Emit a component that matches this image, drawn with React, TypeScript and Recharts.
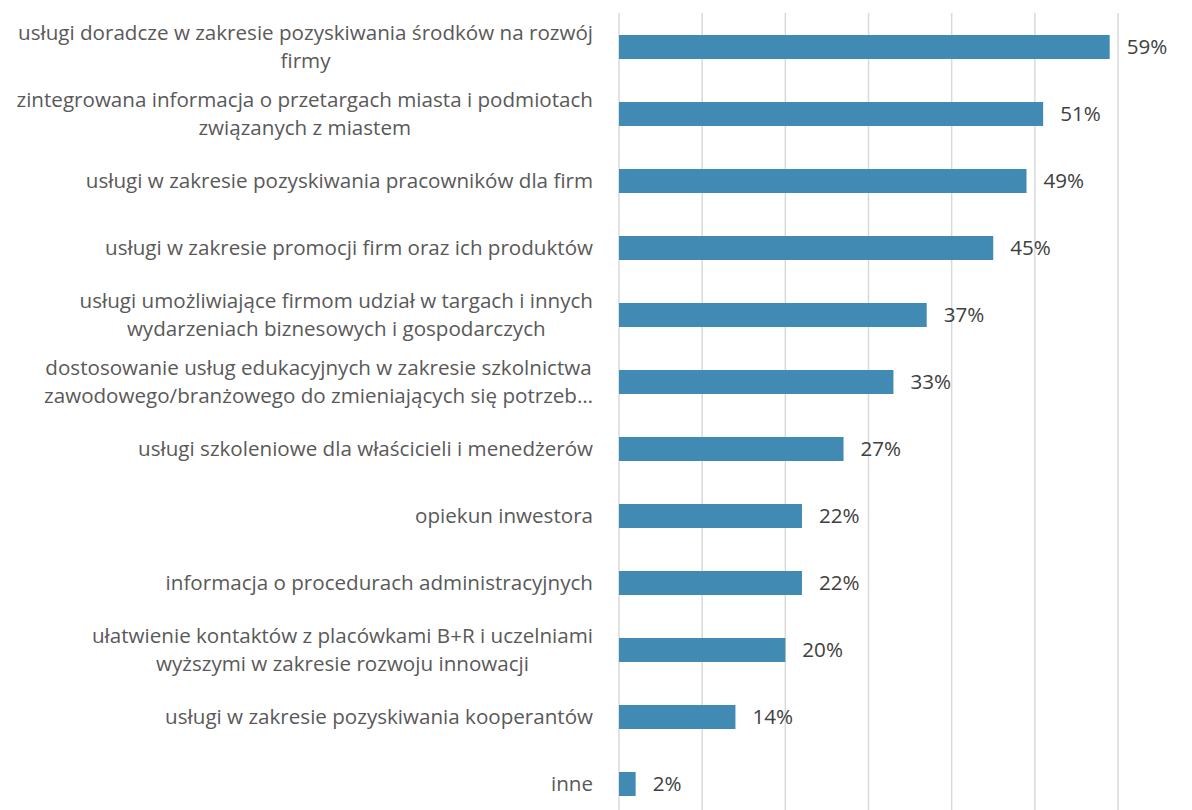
import React from "react";
import { BarChart, Bar, XAxis, YAxis, CartesianGrid, LabelList } from "recharts";

// category labels (\n = line break as in the original)
const categories = [
  "usługi doradcze w zakresie pozyskiwania środków na rozwój\nfirmy",
  "zintegrowana informacja o przetargach miasta i podmiotach\nzwiązanych z miastem",
  "usługi w zakresie pozyskiwania pracowników dla firm",
  "usługi w zakresie promocji firm oraz ich produktów",
  "usługi umożliwiające firmom udział w targach i innych\nwydarzeniach biznesowych i gospodarczych",
  "dostosowanie usług edukacyjnych w zakresie szkolnictwa\nzawodowego/branżowego do zmieniających się potrzeb…",
  "usługi szkoleniowe dla właścicieli i menedżerów",
  "opiekun inwestora",
  "informacja o procedurach administracyjnych",
  "ułatwienie kontaktów z placówkami B+R i uczelniami\nwyższymi w zakresie rozwoju innowacji",
  "usługi w zakresie pozyskiwania kooperantów",
  "inne",
];

const values = [59, 51, 49, 45, 37, 33, 27, 22, 22, 20, 14, 2];

const xTicks = [0, 10, 20, 30, 40, 50, 60];

const data = categories.map((name, i) => ({ name, value: values[i] }));

const FONT_SIZE = 20.6;
const FONT = `${FONT_SIZE}px 'Open Sans'`;

let ctx: CanvasRenderingContext2D | null = null;
function measure(text: string) {
  if (!ctx) ctx = document.createElement("canvas").getContext("2d");
  if (!ctx) return text.length * 10;
  ctx.font = FONT;
  return ctx.measureText(text).width;
}

function CategoryTick(props: any) {
  const { x, y, payload } = props;
  const lines: string[] = String(payload.value).split("\n");
  const right = x - 18;
  const blockW = Math.max(...lines.map(measure));
  const cx = right - blockW / 2;
  const lh = 28;
  const startY = y - ((lines.length - 1) * lh) / 2;
  return (
    <g>
      {lines.map((l, i) => (
        <text
          key={i}
          x={cx}
          y={startY + i * lh}
          dy="0.35em"
          textAnchor="middle"
          fill="#595959"
          fontSize={FONT_SIZE}
          fontFamily="'Open Sans'"
        >
          {l}
        </text>
      ))}
    </g>
  );
}

export default function App() {
  return (
    <div
      style={{
        position: "fixed",
        left: 0,
        top: 0,
        width: 1192,
        height: 810,
        overflow: "hidden",
        background: "#fff",
      }}
    >
      <BarChart
        width={1192}
        height={820}
        data={data}
        layout="vertical"
        margin={{ top: 13, right: 74, left: 0, bottom: 3 }}
      >
        <CartesianGrid horizontal={false} stroke="#d9d9d9" strokeWidth={1.5} />
        <XAxis
          type="number"
          domain={[0, 60]}
          ticks={xTicks}
          height={0}
          tick={{ fill: "none", fontSize: 0 }}
          axisLine={false}
          tickLine={false}
        />
        <YAxis
          type="category"
          dataKey="name"
          width={619}
          axisLine={false}
          tickLine={false}
          interval={0}
          tick={<CategoryTick />}
        />
        <Bar dataKey="value" fill="#418ab3" barSize={24} isAnimationActive={false}>
          <LabelList
            dataKey="value"
            position="right"
            offset={17}
            formatter={(v: any) => `${v}%`}
            fill="#404040"
            fontSize={FONT_SIZE}
            fontFamily="'Open Sans'"
          />
        </Bar>
      </BarChart>
    </div>
  );
}
